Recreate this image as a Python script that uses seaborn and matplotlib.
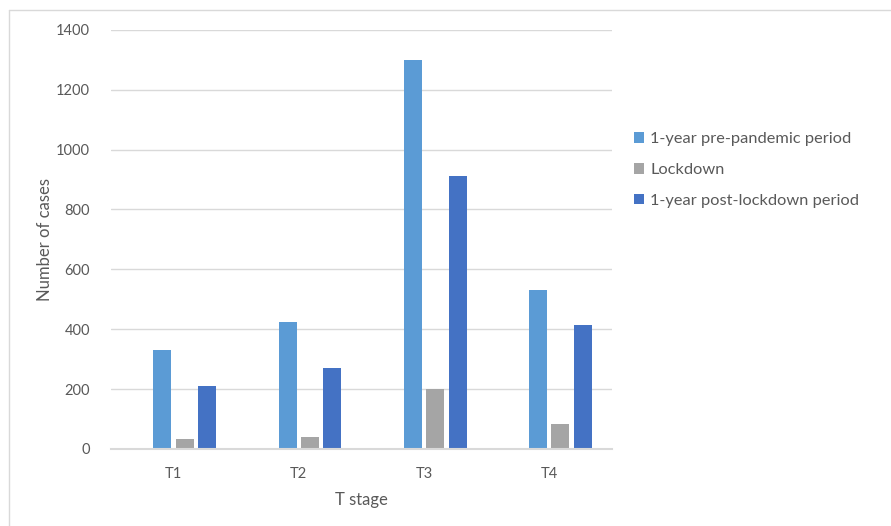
import pandas as pd
import numpy as np
import matplotlib.pyplot as plt
import seaborn as sns
from matplotlib.lines import Line2D

# Values
stages = ['T1', 'T2', 'T3', 'T4']
pre_pandemic = [331, 424, 1300, 530]
lockdown = [34, 39, 202, 84]
post_lockdown = [212, 270, 913, 414]

periods = ['1-year pre-pandemic period', 'Lockdown', '1-year post-lockdown period']
colors = ['#5B9BD5', '#A5A5A5', '#4472C4']

# Long format for seaborn
df = pd.DataFrame({
    'stage': stages * 3,
    'cases': pre_pandemic + lockdown + post_lockdown,
    'period': np.repeat(periods, len(stages)),
})

sns.set_theme(style='white')
plt.rcParams['font.family'] = ['Lato', 'DejaVu Sans']

fig = plt.figure(figsize=(8.91, 5.26), dpi=100)
ax = fig.add_axes([111 / 891, 1 - 449 / 526, 500.7 / 891, 419.3 / 526])

# the original chart keeps an empty first slot in each group
spacer = ' '
palette = dict(zip(periods, colors))
palette[spacer] = 'white'
sns.barplot(data=df, x='stage', y='cases', hue='period',
            hue_order=[spacer] + periods, palette=palette,
            width=0.717, gap=0.2, ax=ax, legend=True,
            edgecolor='none', linewidth=0, saturation=1)

ax.set_ylim(0, 1400)
ax.set_yticks(range(0, 1401, 200))
ax.yaxis.grid(True, color='#D9D9D9', linewidth=1)
ax.set_axisbelow(True)
for side in ['top', 'right', 'left']:
    ax.spines[side].set_visible(False)
ax.spines['bottom'].set_color('#D9D9D9')
ax.spines['bottom'].set_linewidth(1.5)
ax.tick_params(axis='both', length=0, labelsize=10.5, colors='#595959')
ax.tick_params(axis='y', pad=15)
ax.tick_params(axis='x', pad=13)

ax.set_xlabel('T stage', fontsize=12, color='#595959', labelpad=8)
ax.set_ylabel('Number of cases', fontsize=12, color='#595959', labelpad=2)

handles, labels = ax.get_legend_handles_labels()
keep = [(h, l) for h, l in zip(handles, labels) if l.strip()]
ax.legend([h for h, l in keep], [l for h, l in keep],
          loc='center left', bbox_to_anchor=(619 / 891, 1 - 170 / 526),
          bbox_transform=fig.transFigure, frameon=False,
          fontsize=11.8, labelcolor='#595959',
          handlelength=0.65, handleheight=0.65, handletextpad=0.35,
          labelspacing=1.0)

# chart frame (only left and top edges are in view)
fig.add_artist(Line2D([9 / 891, 9 / 891], [0, 1 - 10 / 526], color='#D9D9D9', linewidth=1))
fig.add_artist(Line2D([9 / 891, 1], [1 - 10 / 526, 1 - 10 / 526], color='#D9D9D9', linewidth=1))

fig.savefig('out.png', dpi=100)
